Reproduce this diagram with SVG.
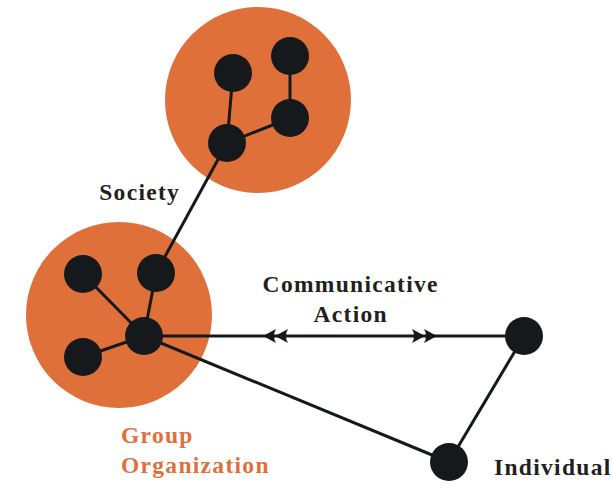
<svg xmlns="http://www.w3.org/2000/svg" width="613" height="485" viewBox="0 0 613 485">
<style>
.blob{fill:#E0703A}
.n{fill:#16191C}
.e{stroke:#16191C;stroke-width:3;fill:none}
.ah{fill:#16191C}
.t{font-family:"Liberation Serif",serif;font-weight:bold;font-size:23.5px;letter-spacing:1.3px;fill:#231F20}
.o{fill:#E0703A}
</style>
<g id="society-cluster">
<circle class="blob" cx="258" cy="100" r="93"/>
</g>
<g id="group-cluster">
<circle class="blob" cx="119" cy="315" r="93"/>
</g>
<g id="connectors">
<line class="e" x1="233" y1="73" x2="227" y2="143"/>
<line class="e" x1="290" y1="56" x2="290" y2="118"/>
<line class="e" x1="290" y1="118" x2="227" y2="143"/>
<line class="e" x1="227" y1="143" x2="156" y2="273"/>
<line class="e" x1="83" y1="274" x2="144" y2="336"/>
<line class="e" x1="156" y1="273" x2="144" y2="336"/>
<line class="e" x1="83" y1="357" x2="144" y2="336"/>
<line class="e" x1="144" y1="336" x2="524" y2="336"/>
<line class="e" x1="144" y1="336" x2="449" y2="462"/>
<line class="e" x1="449" y1="462" x2="524" y2="336"/>
<path class="ah" d="M263,336 L276,329 Q272,336 276,343 Z"/>
<path class="ah" d="M275,336 L288,329 Q284,336 288,343 Z"/>
<path class="ah" d="M437,336 L424,329 Q428,336 424,343 Z"/>
<path class="ah" d="M425,336 L412,329 Q416,336 412,343 Z"/>
</g>
<g id="s1"><circle class="n" cx="233" cy="73" r="19"/></g>
<g id="s2"><circle class="n" cx="290" cy="56" r="19"/></g>
<g id="s3"><circle class="n" cx="290" cy="118" r="19"/></g>
<g id="s4"><circle class="n" cx="227" cy="143" r="19"/></g>
<g id="g1"><circle class="n" cx="83" cy="274" r="19"/></g>
<g id="g2"><circle class="n" cx="156" cy="273" r="19"/></g>
<g id="g3"><circle class="n" cx="144" cy="336" r="19"/></g>
<g id="g4"><circle class="n" cx="83" cy="357" r="19"/></g>
<g id="individual-a"><circle class="n" cx="524" cy="336" r="19"/></g>
<g id="individual-b"><circle class="n" cx="449" cy="462" r="19"/></g>
<g id="labels">
<text class="t" x="139.7" y="200" text-anchor="middle">Society</text>
<text class="t" x="350.7" y="292" text-anchor="middle">Communicative</text>
<text class="t" x="350.7" y="322" text-anchor="middle">Action</text>
<text class="t o" x="121" y="443">Group</text>
<text class="t o" x="121" y="473">Organization</text>
<text class="t" x="494" y="475">Individual</text>
</g>
</svg>
